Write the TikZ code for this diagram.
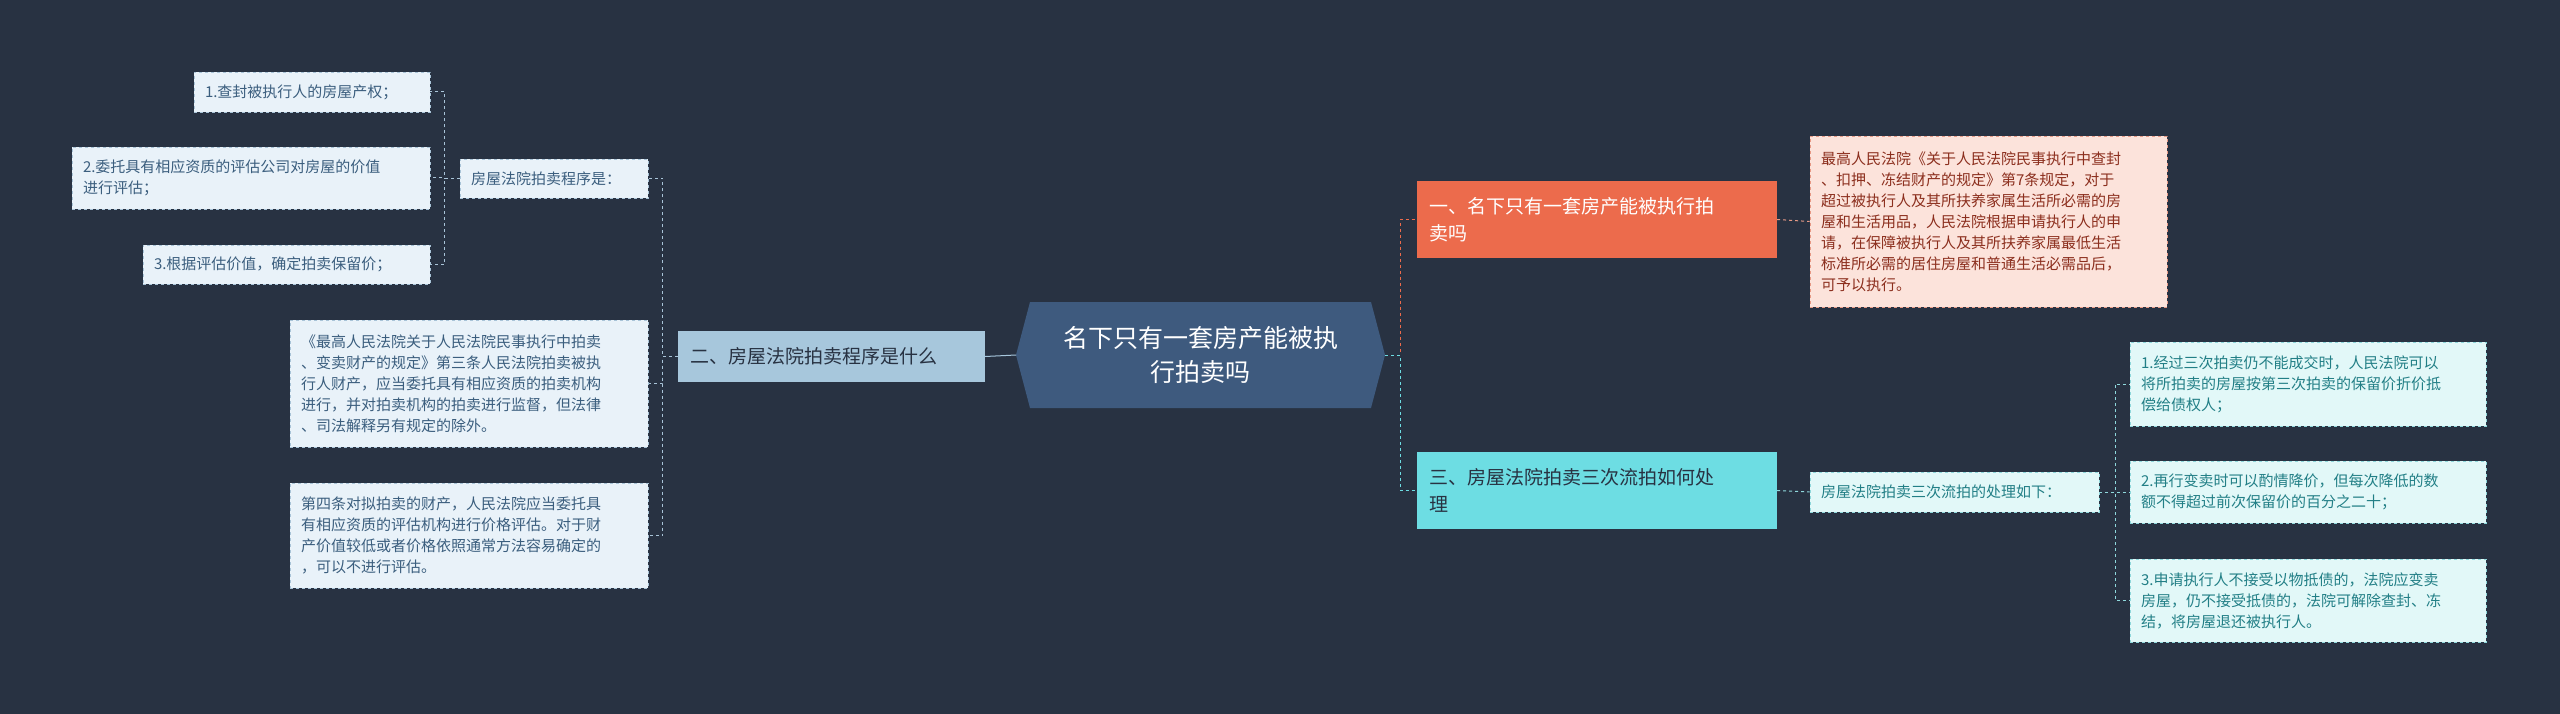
\documentclass[tikz,border=0pt]{standalone}
\usepackage{fontspec}
\setmainfont{Noto Sans CJK SC}
\begin{document}
\begin{tikzpicture}[x=1pt,y=-1pt,
 bx/.style={rectangle,draw,dashed,line width=0.8pt,inner sep=0pt,align=left,font=\fontsize{15}{21}\selectfont},
 lb/.style={bx,fill=lbf,draw=lbd,text=lbt},
 pk/.style={bx,fill=pkf,draw=pkd,text=pkt},
 cy/.style={bx,fill=cyf,draw=cyd,text=cyt},
 lvl/.style={rectangle,inner sep=0pt,align=left,font=\fontsize{19}{27}\selectfont},
 cn/.style={dashed,line width=1pt}]
\definecolor{bg}{HTML}{283242}
\definecolor{lbf}{HTML}{E9F2F9}\definecolor{lbd}{HTML}{A9C4D8}\definecolor{lbt}{HTML}{3B5E7E}
\definecolor{pkf}{HTML}{FCE3DB}\definecolor{pkd}{HTML}{E79A86}\definecolor{pkt}{HTML}{8C2F1E}
\definecolor{cyf}{HTML}{E2F8F8}\definecolor{cyd}{HTML}{8FD8DC}\definecolor{cyt}{HTML}{227F86}
\definecolor{orn}{HTML}{EC6B4C}\definecolor{cyn}{HTML}{6DDDE3}\definecolor{blu}{HTML}{A7C7DC}
\definecolor{ctr}{HTML}{3E5A7E}
\fill[bg] (0,0) rectangle (2560,714);
\useasboundingbox (0,0) rectangle (2560,714);
% center
\fill[ctr] (1016,355)--(1030,302)--(1371,302)--(1385,355)--(1371,408)--(1030,408)--cycle;
\node[align=center,text=white,font=\fontsize{25}{34}\selectfont] (c) at (1200.5,355) {名下只有一套房产能被执\\行拍卖吗};
\coordinate (cR) at (1385,355); \coordinate (cL) at (1016,355);
% level 1
\node[lvl,fill=orn,text=white,minimum width=360,minimum height=77,text width=336] (n1) at (1597,219.5) {一、名下只有一套房产能被执行拍\\卖吗};
\node[lvl,fill=cyn,text=bg,minimum width=360,minimum height=77,text width=336] (n3) at (1597,490.5) {三、房屋法院拍卖三次流拍如何处\\理};
\node[lvl,fill=blu,text=bg,minimum width=307,minimum height=51,text width=283] (n2) at (831.5,356.5) {二、房屋法院拍卖程序是什么};
% right children
\node[pk,minimum width=357,minimum height=171,text width=335] (a) at (1988.5,221.5) {最高人民法院《关于人民法院民事执行中查封\\、扣押、冻结财产的规定》第7条规定，对于\\超过被执行人及其所扶养家属生活所必需的房\\屋和生活用品，人民法院根据申请执行人的申\\请，在保障被执行人及其所扶养家属最低生活\\标准所必需的居住房屋和普通生活必需品后，\\可予以执行。};
\node[cy,minimum width=289,minimum height=40,text width=267] (b) at (1954.5,492) {房屋法院拍卖三次流拍的处理如下：};
\node[cy,minimum width=356,minimum height=84,text width=334] (g1) at (2308,384) {1.经过三次拍卖仍不能成交时，人民法院可以\\将所拍卖的房屋按第三次拍卖的保留价折价抵\\偿给债权人；};
\node[cy,minimum width=356,minimum height=62,text width=334] (g2) at (2308,492) {2.再行变卖时可以酌情降价，但每次降低的数\\额不得超过前次保留价的百分之二十；};
\node[cy,minimum width=356,minimum height=83,text width=334] (g3) at (2308,600.5) {3.申请执行人不接受以物抵债的，法院应变卖\\房屋，仍不接受抵债的，法院可解除查封、冻\\结，将房屋退还被执行人。};
% left children
\node[lb,minimum width=188,minimum height=39,text width=166] (p) at (554,178.5) {房屋法院拍卖程序是：};
\node[lb,minimum width=358,minimum height=127,text width=336] (q) at (469,383.5) {《最高人民法院关于人民法院民事执行中拍卖\\、变卖财产的规定》第三条人民法院拍卖被执\\行人财产，应当委托具有相应资质的拍卖机构\\进行，并对拍卖机构的拍卖进行监督，但法律\\、司法解释另有规定的除外。};
\node[lb,minimum width=358,minimum height=105,text width=336] (r) at (469,535.5) {第四条对拟拍卖的财产，人民法院应当委托具\\有相应资质的评估机构进行价格评估。对于财\\产价值较低或者价格依照通常方法容易确定的\\，可以不进行评估。};
\node[lb,minimum width=236,minimum height=40,text width=214] (l1) at (312,92) {1.查封被执行人的房屋产权；};
\node[lb,minimum width=358,minimum height=62,text width=336] (l2) at (251,178) {2.委托具有相应资质的评估公司对房屋的价值\\进行评估；};
\node[lb,minimum width=287,minimum height=39,text width=265] (l3) at (286.5,264.5) {3.根据评估价值，确定拍卖保留价；};
% connectors
\draw[cn,orn] (cR) -- ++(15,0) |- (n1.west);
\draw[cn,cyn] (cR) -- ++(15,0) |- (n3.west);
\draw[blu,line width=1pt] (cL) -- (n2.east);
\draw[cn,pkd] (n1.east) -- (a.west);
\draw[cn,cyd] (n3.east) -- (b.west);
\draw[cn,cyd] (b.east) -- ++(16,0) |- (g1.west);
\draw[cn,cyd] (b.east) -- ++(16,0) |- (g2.west);
\draw[cn,cyd] (b.east) -- ++(16,0) |- (g3.west);
\draw[cn,lbd] (n2.west) -- ++(-15,0) |- (p.east);
\draw[cn,lbd] (n2.west) -- ++(-15,0) |- (q.east);
\draw[cn,lbd] (n2.west) -- ++(-15,0) |- (r.east);
\draw[cn,lbd] (p.west) -- ++(-15,0) |- (l1.east);
\draw[cn,lbd] (p.west) -- ++(-15,0) |- (l2.east);
\draw[cn,lbd] (p.west) -- ++(-15,0) |- (l3.east);
\end{tikzpicture}
\end{document}
